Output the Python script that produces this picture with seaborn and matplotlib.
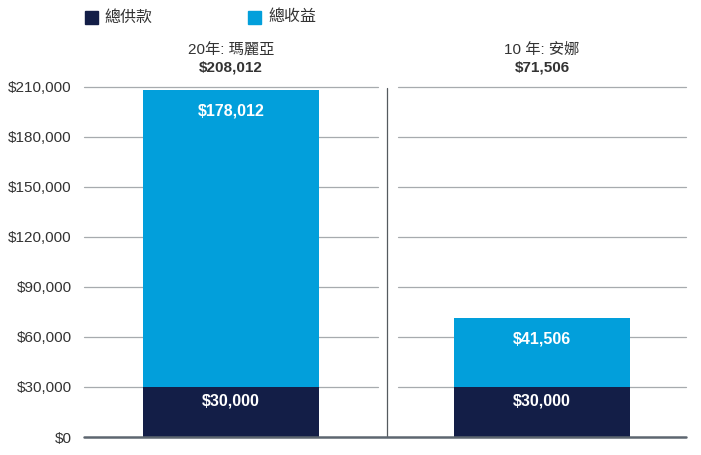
import numpy as np
import pandas as pd
import seaborn as sns
import matplotlib.pyplot as plt
from matplotlib.lines import Line2D
from matplotlib.patches import Rectangle
from matplotlib.ticker import FuncFormatter

names = ["20年: 瑪麗亞", "10 年: 安娜"]
totals = [208012, 71506]
contrib = [30000, 30000]
earnings = [178012, 41506]
legend_labels = ["總供款", "總收益"]
yticks = [0, 30000, 60000, 90000, 120000, 150000, 180000, 210000]

navy = "#131e47"
blue = "#029fdb"
grid_c = "#a7abae"
text_c = "#333333"

sns.set_style("white")
plt.rcParams['font.family'] = ['Liberation Sans', 'Noto Sans CJK TC']

df = pd.DataFrame({"name": names, "total": totals, "contrib": contrib, "earn": earnings})

W, H = 701, 455
fig = plt.figure(figsize=(W / 100, H / 100), dpi=100)
y0, y1 = 437, 87
boxes = [(84, 378), (398, 686)]
widths = [0.6, 0.608]
axes = []
for i, (xa, xb) in enumerate(boxes):
    ax = fig.add_axes([xa / W, (H - y0) / H, (xb - xa) / W, (y0 - y1) / H])
    row = df.iloc[[i]]
    sns.barplot(data=row, x="name", y="total", color=blue, width=widths[i],
                saturation=1, linewidth=0, ax=ax, zorder=2)
    sns.barplot(data=row, x="name", y="contrib", color=navy, width=widths[i],
                saturation=1, linewidth=0, ax=ax, zorder=3)
    ax.set_xlim(-0.5, 0.5)
    ax.set_ylim(0, 210000)
    ax.set_yticks(yticks)
    for t in yticks[1:]:
        ax.axhline(t, color=grid_c, lw=0.9, zorder=1, clip_on=False)
    for s in ax.spines.values():
        s.set_visible(False)
    ax.set_xlabel("")
    ax.set_ylabel("")
    ax.set_xticks([])
    ax.tick_params(axis="y", length=0, pad=9, labelsize=11, labelcolor=text_c)
    if i == 0:
        ax.yaxis.set_major_formatter(FuncFormatter(lambda v, p: f"${v:,.0f}"))
    else:
        ax.tick_params(axis="y", labelleft=False)

    # segment labels
    ax.annotate(f"${earnings[i]:,}", (0, totals[i]), xytext=(0, -15),
                textcoords="offset points", ha="center", va="center",
                color="white", fontsize=11.5, fontweight="bold", zorder=5)
    ax.annotate(f"${contrib[i]:,}", (0, contrib[i]), xytext=(0, -10),
                textcoords="offset points", ha="center", va="center",
                color="white", fontsize=11.5, fontweight="bold", zorder=5)

    # panel titles
    ax.text(0, 1.105, names[i], transform=ax.get_xaxis_transform(),
            ha="center", va="center", fontsize=11, color=text_c)
    ax.text(0, 1.055, f"${totals[i]:,}", transform=ax.get_xaxis_transform(),
            ha="center", va="center", fontsize=11, fontweight="bold", color=text_c)
    axes.append(ax)

# divider and baseline
fig.add_artist(Line2D([387 / W, 387 / W], [(H - 437) / H, (H - 88) / H],
                      color="#555a5f", lw=0.9))
fig.add_artist(Line2D([84 / W, 686 / W], [(H - 437) / H, (H - 437) / H],
                      color="#5d6670", lw=1.8))

# legend
for (sx, tx), lab, c in zip([(85, 104), (248, 268)], legend_labels, [navy, blue]):
    fig.add_artist(Rectangle((sx / W, (H - 24) / H), 13 / W, 13 / H, color=c,
                             transform=fig.transFigure))
    fig.text(tx / W, (H - 17) / H, lab, ha="left", va="center", fontsize=11.5,
             color=text_c)

fig.savefig("out.png", dpi=100)
